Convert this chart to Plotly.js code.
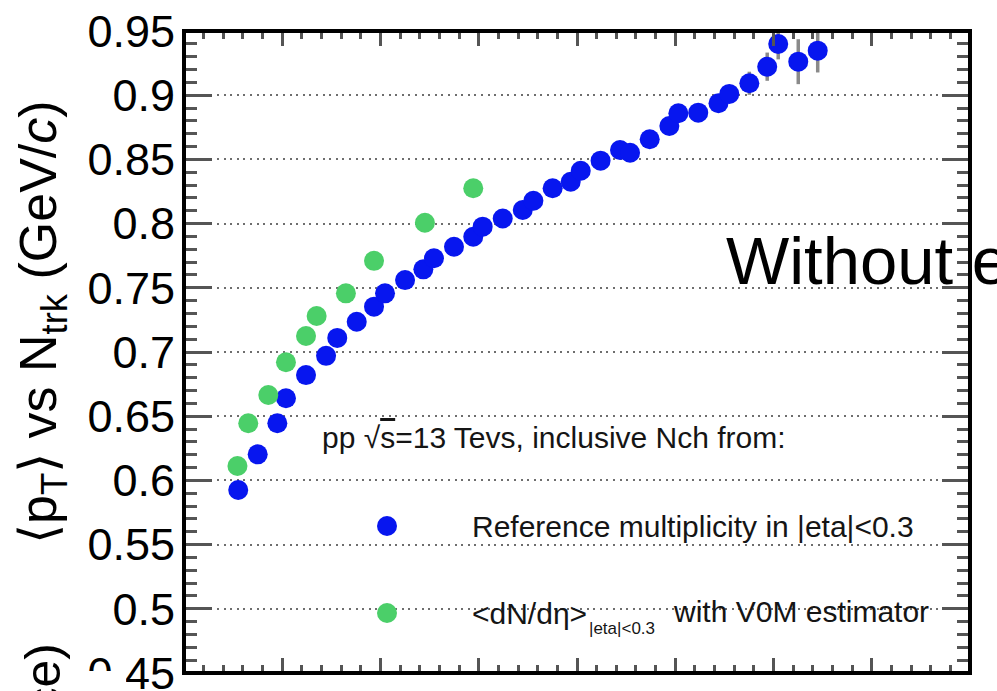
<!DOCTYPE html>
<html>
<head>
<meta charset="utf-8">
<script src="https://cdn.plot.ly/plotly-3.0.1.min.js"></script>
<style>html,body{margin:0;padding:0;background:#fff}</style>
</head>
<body>
<div id="chart" style="width:997px;height:691px"></div>
<script>
// <pT> vs Ntrk, pp at 13 TeV: two ways of selecting the event multiplicity
const ntrkRef = [2.76, 3.75, 4.75, 5.19, 6.21, 7.23, 7.80, 8.79, 9.67, 10.23, 11.25, 12.18,
                 12.72, 13.74, 14.72, 15.20, 16.22, 17.24, 17.78, 18.76, 19.68, 20.19, 21.20, 22.19,
                 22.70, 23.70, 24.70, 25.16, 26.17, 27.20, 27.75, 28.77, 29.68, 30.24, 31.26, 32.25];
const meanPtRef = [0.5925, 0.6203, 0.6445, 0.6640, 0.6820, 0.6970, 0.7110, 0.7236, 0.7353, 0.7457, 0.7560, 0.7644,
                   0.7730, 0.7820, 0.7898, 0.7976, 0.8040, 0.8106, 0.8178, 0.8275, 0.8326, 0.8412, 0.8490, 0.8573,
                   0.8552, 0.8657, 0.8760, 0.8859, 0.8864, 0.8937, 0.9010, 0.9093, 0.9222, 0.9399, 0.9261, 0.9347];
const errRef = [0.001, 0.001, 0.001, 0.001, 0.001, 0.001, 0.001, 0.001, 0.002, 0.002, 0.002, 0.002,
                0.002, 0.002, 0.002, 0.002, 0.003, 0.003, 0.003, 0.003, 0.003, 0.003, 0.004, 0.004,
                0.004, 0.004, 0.005, 0.005, 0.005, 0.006, 0.007, 0.009, 0.011, 0.012, 0.0175, 0.017];

const ntrkV0M = [2.72, 3.27, 4.29, 5.19, 6.21, 6.75, 8.24, 9.67, 12.26, 14.72];
const meanPtV0M = [0.6112, 0.6445, 0.6665, 0.6920, 0.7125, 0.7280, 0.7457, 0.7710, 0.8007, 0.8275];

const yTicks = [0.45, 0.5, 0.55, 0.6, 0.65, 0.7, 0.75, 0.8, 0.85, 0.9, 0.95];
const yTickText = ['0.45', '0.5', '0.55', '0.6', '0.65', '0.7', '0.75', '0.8', '0.85', '0.9', '0.95'];

const refName = 'Reference multiplicity in |eta|&lt;0.3';
const v0mName = '&lt;dN/dη&gt;<sub>|eta|&lt;0.3</sub> with V0M estimator';

const BLUE = '#0716ef';
const GREEN = '#4bcf69';
const FONT = 'Liberation Sans, Arial, Helvetica, sans-serif';

// frame geometry in pixels
const L = 184, T = 31, R = 970, B = 673;
const W = R - L, H = B - T;
const fx = p => (p - L) / W;
const fy = p => 1 - (p - T) / H;

const traces = [
  {
    type: 'scatter', mode: 'markers', name: refName,
    x: ntrkRef, y: meanPtRef,
    error_y: {type: 'data', array: errRef, visible: true, color: '#8a8a8a', thickness: 3.5, width: 0},
    marker: {color: BLUE, size: 20, line: {width: 0}}
  },
  {
    type: 'scatter', mode: 'markers', name: v0mName,
    x: ntrkV0M, y: meanPtV0M,
    marker: {color: GREEN, size: 20, line: {width: 0}}
  }
];

const txt = (text, x, y, size, extra) => Object.assign({
  text: text, xref: 'paper', yref: 'paper', x: fx(x), y: fy(y),
  xanchor: 'left', yanchor: 'middle', showarrow: false,
  font: {family: FONT, size: size, color: '#151515'}
}, extra || {});

const annotations = [
  txt('⟨p<sub>T</sub>⟩ vs N<sub>trk</sub> (GeV/<i>c</i>)', 42, 322, 52,
      {xanchor: 'center', textangle: -90, font: {family: FONT, size: 52, color: '#000'}}),
  txt('ce)', 42, 642, 50,
      {xanchor: 'center', yanchor: 'top', textangle: -90, font: {family: FONT, size: 50, color: '#000'}}),
  txt('pp √<span style="text-decoration:overline">s</span>=13 Tevs, inclusive Nch from:', 320, 437, 30),
  txt(refName, 470, 526, 30),
  txt('&lt;dN/dη&gt;', 470, 613, 30),
  txt('|eta|&lt;0.3', 587, 628, 17),
  txt('with V0M estimator', 671, 611, 30),
  txt('Without efficiency', 724, 260, 67, {font: {family: FONT, size: 67, color: '#000'}})
];

const shapes = [
  // white cover of the pad below
  {type: 'rect', xref: 'paper', yref: 'paper', x0: fx(0), x1: fx(126), y0: fy(691), y1: fy(671),
   fillcolor: '#fff', line: {width: 0}, layer: 'above'},
  // frame
  {type: 'rect', xref: 'paper', yref: 'paper', x0: 0, x1: 1, y0: 0, y1: 1,
   line: {color: '#000', width: 4}, fillcolor: 'rgba(0,0,0,0)', layer: 'above'},
  // legend keys
  {type: 'circle', xref: 'paper', yref: 'paper', x0: fx(377), x1: fx(397), y0: fy(536), y1: fy(516),
   fillcolor: BLUE, line: {width: 0}, layer: 'above'},
  {type: 'circle', xref: 'paper', yref: 'paper', x0: fx(377), x1: fx(397), y0: fy(623), y1: fy(603),
   fillcolor: GREEN, line: {width: 0}, layer: 'above'}
];

const layout = {
  width: 997, height: 691,
  margin: {l: L, r: 997 - R, t: T, b: 691 - B, pad: 0},
  paper_bgcolor: '#fff', plot_bgcolor: '#fff',
  showlegend: false,
  font: {family: FONT, color: '#000'},
  xaxis: {
    range: [0, 40], showticklabels: false, showgrid: false, zeroline: false,
    showline: false, mirror: 'ticks',
    ticks: 'inside', tick0: 0, dtick: 5, ticklen: 15, tickwidth: 3, tickcolor: '#555',
    minor: {ticks: 'inside', dtick: 1, ticklen: 8, tickwidth: 3, tickcolor: '#555', showgrid: false}
  },
  yaxis: {
    range: [0.4499999, 0.9500001], zeroline: false, showline: false, mirror: 'ticks',
    tickmode: 'array', tickvals: yTicks, ticktext: yTickText,
    ticks: 'inside', ticklen: 28, tickwidth: 3, tickcolor: '#555',
    tickfont: {family: FONT, size: 45, color: '#000'},
    ticklabelstandoff: 8, ticklabeloverflow: 'allow',
    showgrid: true, gridcolor: '#6e6e6e', gridwidth: 2, griddash: '2px,4.6px',
    minor: {ticks: 'inside', dtick: 0.01, tick0: 0, ticklen: 13, tickwidth: 3, tickcolor: '#555', showgrid: false}
  },
  annotations: annotations,
  shapes: shapes
};

Plotly.newPlot('chart', traces, layout, {staticPlot: true, displayModeBar: false});
</script>
</body>
</html>
